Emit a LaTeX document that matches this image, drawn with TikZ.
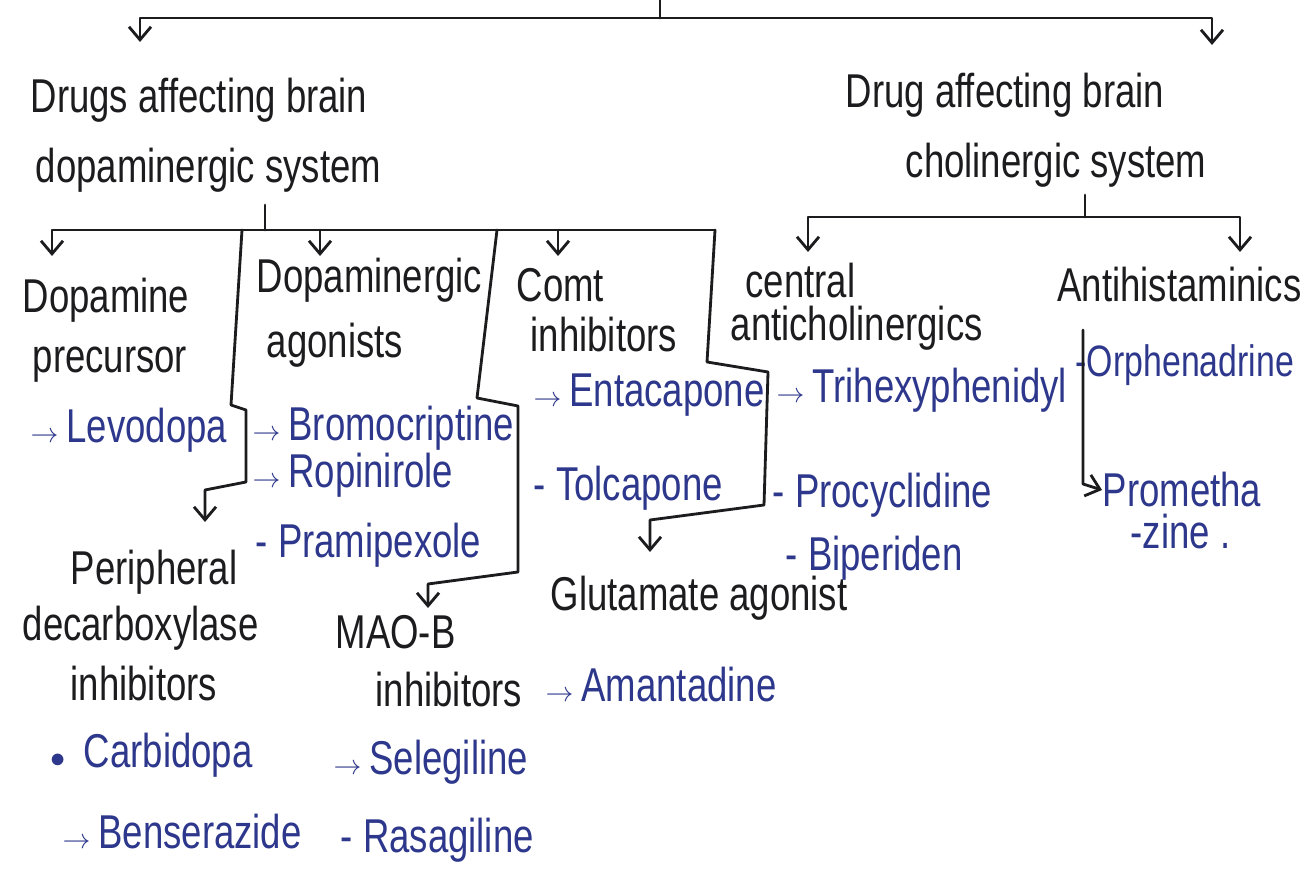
\documentclass[tikz,border=0pt]{standalone}
\usepackage{fontspec}
\usepackage{xcolor}
\usetikzlibrary{arrows.meta}
\setmainfont{Liberation Sans}[FakeStretch=0.77]
\definecolor{inkblack}{RGB}{28,28,30}
\definecolor{inkblue}{RGB}{45,55,140}
\newcommand{\arr}{\scalebox{0.55}{$\to$}\,}

\begin{document}
\begin{tikzpicture}[x=0.01cm, y=-0.01cm,
  pen/.style={draw=inkblack, line width=0.8pt, line join=round, line cap=round},
  pin/.style={pen, -{Straight Barb[length=1.3mm, width=2.2mm]}},
  head/.style={font=\fontsize{13.5}{16}\selectfont, text=inkblack, anchor=west, inner sep=0},
  drug/.style={font=\fontsize{13.5}{16}\selectfont, text=inkblue, anchor=west, inner sep=0},
]
\useasboundingbox[fill=white] (0,0) rectangle (1307,877);

% ---- two main groups
\node[head] (dopa1) at (30,100) {Drugs affecting brain};
\node[head] (dopa2) at (35,170) {dopaminergic system};
\node[head] (chol1) at (845,95) {Drug affecting brain};
\node[head] (chol2) at (905,165) {cholinergic system};

\coordinate (root) at (660,0);
\coordinate (dopaIn) at (140,42);
\coordinate (cholIn) at (1212,45);
\draw[pen] (root) -- ++(0,18) coordinate (rootbar);
\draw[pin] (rootbar) -| (dopaIn);
\draw[pin] (rootbar) -| (cholIn);

% ---- dopaminergic branch
\node[head] (prec1) at (22,300) {Dopamine};
\node[head] (prec2) at (32,365) {precursor};
\node[drug] (levo) at (30,430) {\arr Levodopa};

\node[head] (agon1) at (256,280) {Dopaminergic};
\node[head] (agon2) at (266,345) {agonists};
\node[drug] (bromo) at (252,428) {\arr Bromocriptine};
\node[drug] (ropi) at (252,475) {\arr Ropinirole};
\node[drug] (prami) at (255,545) {- Pramipexole};

\node[head] (comt1) at (516,285) {Comt};
\node[head] (comt2) at (530,335) {inhibitors};
\node[drug] (enta) at (533,395) {\arr Entacapone};
\node[drug] (tolca) at (533,488) {- Tolcapone};

\node[head] (peri1) at (70,572) {Peripheral};
\node[head] (peri2) at (22,628) {decarboxylase};
\node[head] (peri3) at (70,684) {inhibitors};
\node[drug] (carbi) at (50,755) {\scalebox{0.6}{$\bullet$}\, Carbidopa};
\node[drug] (bense) at (62,832) {\arr Benserazide};

\node[head] (mao1) at (335,632) {MAO-B};
\node[head] (mao2) at (375,690) {inhibitors};
\node[drug] (sele) at (333,762) {\arr Selegiline};
\node[drug] (rasa) at (340,840) {- Rasagiline};

\node[head] (glut) at (550,598) {Glutamate agonist};
\node[drug] (amant) at (545,685) {\arr Amantadine};

\coordinate (dopaStem) at (265,205);
\coordinate (precIn) at (52,256);
\coordinate (agonIn) at (320,256);
\coordinate (comtIn) at (558,256);
\draw[pen] (dopaStem) -- ++(0,25) coordinate (dopabar);
\draw[pin] (dopabar) -| (precIn);
\draw[pin] (dopabar) -| (agonIn);
\draw[pin] (dopabar) -| (comtIn);
\draw[pen] (dopabar) -- (715,230);

% box edges that run on into the add-on groups
\coordinate (periIn) at (205,522);
\coordinate (maoIn) at (428,608);
\coordinate (glutIn) at (650,552);
\draw[pin] (242,230) -- (231,405) -- (246,410) -- (246,482) -- (205,490) -- (periIn);
\draw[pin] (497,230) -- (477,398) -- (518,406) -- (518,572) -- (428,584) -- (maoIn);
\draw[pin] (715,230) -- (707,362) -- (768,372) -- (764,505) -- (650,520) -- (glutIn);

% ---- cholinergic branch
\node[head] (cent1) at (745,281) {central};
\node[head] (cent2) at (730,328) {anticholinergics};
\node[drug] (trihex) at (776,390) {\arr Trihexyphenidyl};
\node[drug] (procy) at (772,495) {- Procyclidine};
\node[drug] (biper) at (785,558) {- Biperiden};

\node[head, anchor=east] (anti) at (1302,285) {Antihistaminics};
\node[drug, font=\fontsize{12.5}{15}\selectfont] (orphen) at (1075,365) {-Orphenadrine};
\node[drug] (prom1) at (1102,490) {Prometha};
\node[drug] (prom2) at (1130,532) {-zine .};

\coordinate (cholStem) at (1085,195);
\coordinate (centIn) at (808,252);
\coordinate (antiIn) at (1240,252);
\draw[pen] (cholStem) -- ++(0,22) coordinate (cholbar);
\draw[pin] (cholbar) -| (centIn);
\draw[pin] (cholbar) -| (antiIn);
\draw[pin] (1083,330) -- (1083,484) -- (prom1.west);
\end{tikzpicture}
\end{document}
